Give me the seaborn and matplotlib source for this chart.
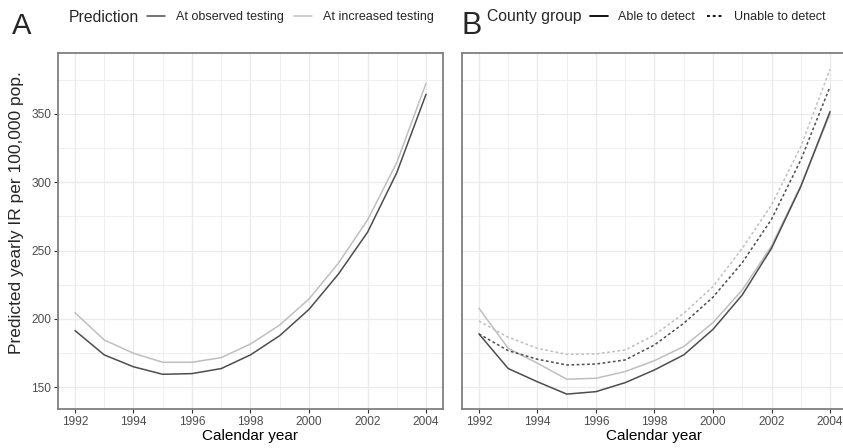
import numpy as np
import pandas as pd
import seaborn as sns
import matplotlib
matplotlib.use("Agg")
import matplotlib.pyplot as plt
from matplotlib.lines import Line2D
from matplotlib.ticker import MultipleLocator

# ---------------- data ----------------
years = list(range(1992, 2005))

# Panel A: prediction at observed vs increased testing
a_observed = [191.5, 173.7, 165.0, 159.5, 160.0, 163.7, 173.7, 187.8, 207.0, 232.7, 263.4, 307.0, 364.4]
a_increased = [204.6, 184.6, 174.9, 168.3, 168.3, 171.7, 181.7, 195.6, 214.6, 240.7, 272.4, 314.4, 372.4]

# Panel B: county groups
b_able_observed = [189.0, 163.7, 154.0, 145.0, 146.8, 153.4, 162.7, 173.7, 192.4, 217.6, 251.7, 296.8, 351.7]
b_able_increased = [207.8, 178.5, 167.6, 155.9, 156.6, 161.5, 169.5, 179.8, 197.3, 221.2, 253.4, 297.5, 350.0]
b_unable_observed = [189.0, 176.8, 170.5, 166.3, 167.0, 170.0, 181.0, 196.8, 215.9, 241.2, 272.9, 316.3, 370.0]
b_unable_increased = [198.5, 186.6, 178.5, 174.1, 174.4, 177.3, 188.3, 204.1, 223.7, 251.7, 283.4, 326.0, 382.7]

pred_levels = ["At observed testing", "At increased testing"]
group_levels = ["Able to detect", "Unable to detect"]
x_ticks = [1992, 1994, 1996, 1998, 2000, 2002, 2004]
y_ticks = [150, 200, 250, 300, 350]

df_a = pd.DataFrame({
    "year": years * 2,
    "ir": a_observed + a_increased,
    "pred": [pred_levels[0]] * len(years) + [pred_levels[1]] * len(years),
})
df_b = pd.DataFrame({
    "year": years * 4,
    "ir": b_able_observed + b_able_increased + b_unable_observed + b_unable_increased,
    "pred": ([pred_levels[0]] * len(years) + [pred_levels[1]] * len(years)) * 2,
    "group": [group_levels[0]] * (2 * len(years)) + [group_levels[1]] * (2 * len(years)),
})

# ---------------- style ----------------
sns.set_theme(style="white")
plt.rcParams["font.family"] = ["Liberation Sans", "DejaVu Sans"]

DARK = "#4d4d4d"
LIGHT = "#bfbfbf"
GRID = "#ebebeb"
BORDER = "#7f7f7f"
palette = {pred_levels[0]: DARK, pred_levels[1]: LIGHT}
dashes = {group_levels[0]: "", group_levels[1]: (1.8, 1.6)}

fig = plt.figure(figsize=(8.43, 4.48), dpi=100)
W, H = 843, 448
axA = fig.add_axes([58 / W, 1 - 409 / H, (443 - 58) / W, (409 - 53) / H])
axB = fig.add_axes([462 / W, 1 - 409 / H, (847 - 462) / W, (409 - 53) / H])

sns.lineplot(data=df_a, x="year", y="ir", hue="pred", palette=palette,
             hue_order=pred_levels[::-1], linewidth=1.1, ax=axA, legend=False)
sns.lineplot(data=df_b, x="year", y="ir", hue="pred", style="group",
             palette=palette, dashes=dashes, hue_order=pred_levels[::-1],
             style_order=group_levels, linewidth=1.1, ax=axB, legend=False)

for ax in (axA, axB):
    ax.set_xlim(1991.42, 2004.58)
    ax.set_ylim(134.1, 394.6)
    ax.set_xticks(x_ticks)
    ax.set_yticks(y_ticks)
    ax.xaxis.set_minor_locator(MultipleLocator(1))
    ax.yaxis.set_minor_locator(MultipleLocator(25))
    ax.grid(which="major", color=GRID, linewidth=1.0, zorder=0)
    ax.grid(which="minor", color=GRID, linewidth=0.55, zorder=0)
    ax.set_axisbelow(True)
    for s in ax.spines.values():
        s.set_color(BORDER)
        s.set_linewidth(1.3)
    ax.tick_params(axis="x", which="major", length=3, width=0.8, color="#333333",
                   labelsize=8.6, labelcolor="#4d4d4d", pad=2, bottom=True)
    ax.tick_params(which="minor", length=0)
    ax.set_xlabel("Calendar year", fontsize=11, labelpad=1, color="black")

axA.tick_params(axis="y", which="major", length=3, width=0.8, color="#333333",
                labelsize=8.6, labelcolor="#4d4d4d", pad=2, left=True)
axA.set_ylabel("Predicted yearly IR per 100,000 pop.", fontsize=12.5)
axA.yaxis.set_label_coords(-0.088, 0.553)
axB.tick_params(axis="y", which="major", length=0, labelleft=False)
axB.set_ylabel("")

# ---------------- panel letters & legends ----------------
fig.text(12 / W, 1 - 34 / H, "A", fontsize=21, ha="left", va="baseline")
fig.text(461 / W, 1 - 34 / H, "B", fontsize=22, ha="left", va="baseline")

fig.text(69 / W, 1 - 17 / H, "Prediction", fontsize=11.3, ha="left", va="center")
hA = [Line2D([], [], color=palette[p], linewidth=1.1) for p in pred_levels]
fig.legend(hA, pred_levels, loc="center left", bbox_to_anchor=(147 / W, 1 - 17 / H),
           ncol=2, frameon=False, fontsize=9, handlelength=1.4, handletextpad=0.9,
           columnspacing=0.85, borderaxespad=0, borderpad=0)

fig.text(487 / W, 1 - 17 / H, "County group", fontsize=11.3, ha="left", va="center")
hB = [Line2D([], [], color="black", linewidth=1.3, linestyle="-"),
      Line2D([], [], color="black", linewidth=1.3, dashes=(1.6, 1.6))]
fig.legend(hB, group_levels, loc="center left", bbox_to_anchor=(590 / W, 1 - 17 / H),
           ncol=2, frameon=False, fontsize=9, handlelength=1.4, handletextpad=0.8,
           columnspacing=1.0, borderaxespad=0, borderpad=0)

fig.savefig("out.png", dpi=100)
